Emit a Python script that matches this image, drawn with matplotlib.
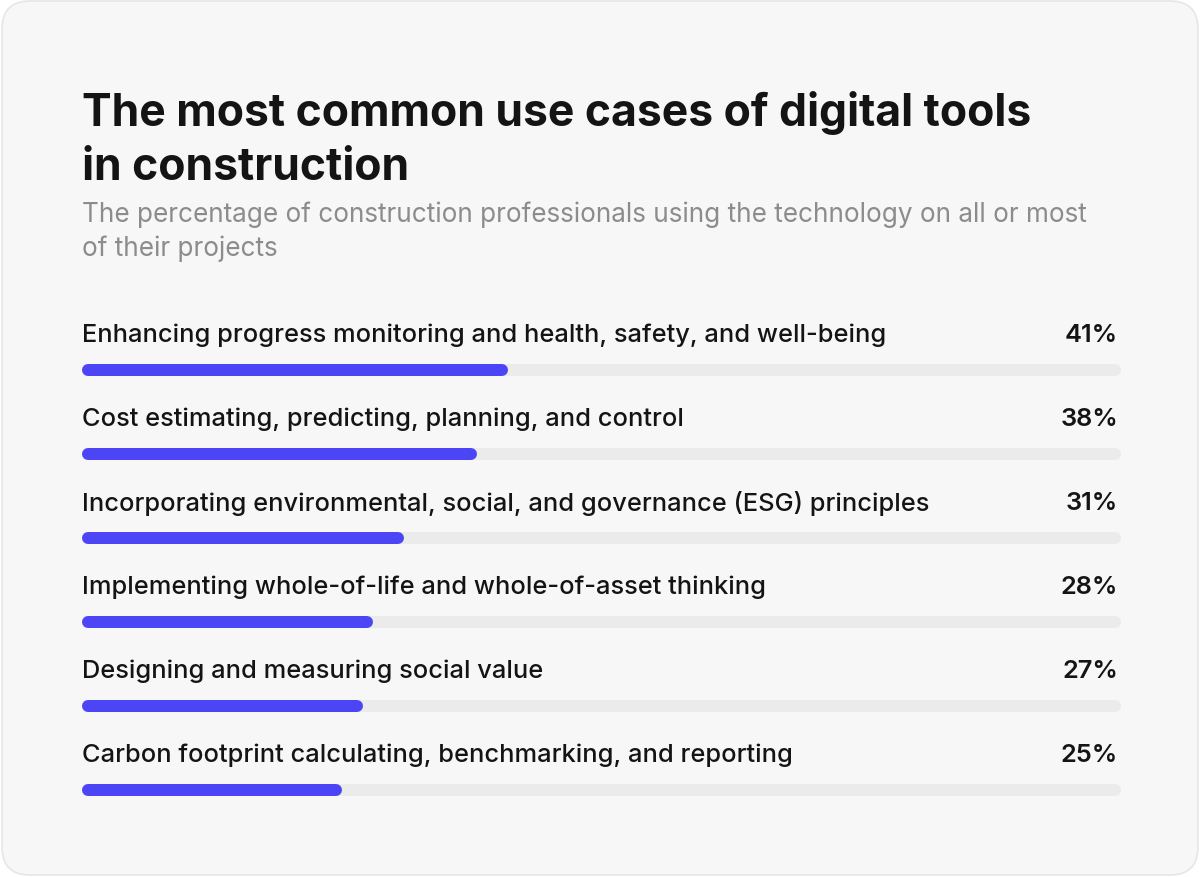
import matplotlib
matplotlib.use("Agg")
import matplotlib.pyplot as plt
from matplotlib.patches import FancyBboxPatch

categories = [
    "Enhancing progress monitoring and health, safety, and well-being",
    "Cost estimating, predicting, planning, and control",
    "Incorporating environmental, social, and governance (ESG) principles",
    "Implementing whole-of-life and whole-of-asset thinking",
    "Designing and measuring social value",
    "Carbon footprint calculating, benchmarking, and reporting",
]
values = [41, 38, 31, 28, 27, 25]
title_lines = ["The most common use cases of digital tools", "in construction"]
subtitle_lines = ["The percentage of construction professionals using the technology on all or most",
                  "of their projects"]

plt.rcParams['font.family'] = ['Inter', 'DejaVu Sans']
W, H = 1200, 878
fig = plt.figure(figsize=(W/100, H/100), dpi=100)
fig.patch.set_facecolor('white')
bg = fig.add_axes([0, 0, 1, 1])
bg.set_xlim(0, W); bg.set_ylim(H, 0); bg.axis('off')
bg.add_patch(FancyBboxPatch((2, 2), W-4, H-4, boxstyle="round,pad=0,rounding_size=28",
                            fc='#f7f7f7', ec='#e6e6e6', lw=1.2))
for k, t in enumerate(title_lines):
    bg.text(82, 126 + 54*k, t, fontsize=32, fontweight='bold', color='#141414', va='baseline')
for k, t in enumerate(subtitle_lines):
    bg.text(82, 222 + 34*k, t, fontsize=18.8, color='#8c8c8c', va='baseline')

x0, x1 = 82, 1121
ytop, ybot = 329, 833
ax = fig.add_axes([x0/W, 1-ybot/H, (x1-x0)/W, (ybot-ytop)/H])
ax.set_xlim(0, 100); ax.set_ylim(len(values)-0.5, -0.5); ax.axis('off')
lw = 12*72/100
r = 6/(x1-x0)*100
for i, (c, v) in enumerate(zip(categories, values)):
    ax.plot([r, 100-r], [i, i], color='#ebebeb', lw=lw, solid_capstyle='round')
    ax.plot([r, v-r], [i, i], color='#4b45f6', lw=lw, solid_capstyle='round')
    ax.text(0, i-0.42, c, fontsize=18.3, fontweight='medium', color='#141414', va='center', ha='left')
    ax.text(99.7, i-0.42, f"{v}%", fontsize=18.3, fontweight='semibold', color='#141414', va='center', ha='right')

fig.savefig('out.png', dpi=100, facecolor='white')
